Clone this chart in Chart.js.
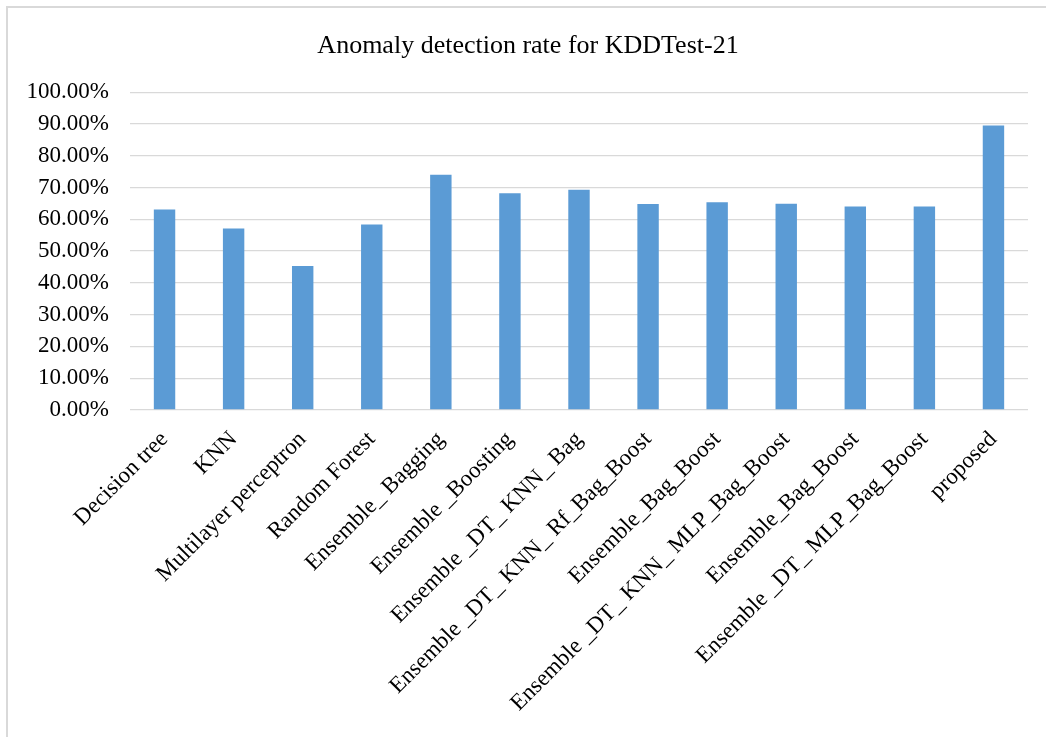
<!DOCTYPE html>
<html>
<head>
<meta charset="utf-8">
<title>Anomaly detection rate for KDDTest-21</title>
<script src="https://cdn.jsdelivr.net/npm/chart.js@4.4.1/dist/chart.umd.min.js"></script>
<style>
    html, body { margin: 0; padding: 0; background: #ffffff; }
    #wrap { position: relative; width: 1046px; height: 737px; overflow: hidden; }
    /* frame around the chart (top and left edges only show) */
    #frame {
        position: absolute; left: 6px; top: 6px; width: 1100px; height: 800px;
        border-top: 2px solid #d9d9d9; border-left: 2px solid #d9d9d9;
    }
    #rateChart { position: absolute; left: 0; top: 0; }
</style>
</head>
<body>
<div id="wrap">
    <div id="frame"></div>
    <canvas id="rateChart" width="1046" height="737"></canvas>
</div>
<script>
// Detection rate per model (percent)
const models = [
    'Decision tree',
    'KNN',
    'Multilayer perceptron',
    'Random Forest',
    'Ensemble_ Bagging',
    'Ensemble _Boosting',
    'Ensemble _DT_ KNN_ Bag',
    'Ensemble _DT_ KNN_ Rf_Bag_Boost',
    'Ensemble_Bag_Boost',
    'Ensemble _DT_ KNN_ MLP_Bag_Boost',
    'Ensemble_Bag_Boost',
    'Ensemble _DT_ MLP_Bag_Boost',
    'proposed'
];
const detectionRate = [63.1, 57.1, 45.3, 58.4, 74.0, 68.2, 69.3, 64.8, 65.4, 64.9, 64.0, 64.0, 89.5];
const yTicks = [0, 10, 20, 30, 40, 50, 60, 70, 80, 90, 100];

const serif = "'Liberation Serif', 'Times New Roman', serif";

document.addEventListener('DOMContentLoaded', function() {
    const ctx = document.getElementById('rateChart').getContext('2d');

    new Chart(ctx, {
        type: 'bar',
        data: {
            labels: models,
            datasets: [{
                label: 'Detection rate',
                data: detectionRate,
                backgroundColor: '#5b9bd5',
                borderWidth: 0,
                barPercentage: 0.31,
                categoryPercentage: 1.0
            }]
        },
        options: {
            responsive: false,
            animation: false,
            layout: {
                // left padding keeps the title centred over the frame
                padding: { left: 28, right: 18, top: 31, bottom: 0 }
            },
            plugins: {
                legend: { display: false },
                tooltip: { enabled: false },
                title: {
                    display: true,
                    text: 'Anomaly detection rate for KDDTest-21',
                    color: '#000000',
                    font: { family: serif, size: 26, weight: 'normal' },
                    padding: { top: 0, bottom: 30 }
                }
            },
            scales: {
                y: {
                    min: 0,
                    max: 100,
                    afterBuildTicks: function(scale) {
                        scale.ticks = yTicks.map(v => ({ value: v }));
                    },
                    afterFit: function(scale) {
                        scale.width = 102;
                    },
                    border: { display: false },
                    grid: {
                        color: '#d9d9d9',
                        lineWidth: 1.3,
                        drawTicks: false
                    },
                    ticks: {
                        color: '#000000',
                        padding: 21,
                        font: { family: serif, size: 23 },
                        callback: v => v.toFixed(2) + '%'
                    }
                },
                x: {
                    afterFit: function(scale) {
                        scale.height = 327;
                    },
                    border: { display: false },
                    grid: { display: false, drawTicks: false },
                    ticks: {
                        color: '#000000',
                        padding: 16,
                        autoSkip: false,
                        maxRotation: 45,
                        minRotation: 45,
                        font: { family: serif, size: 23 }
                    }
                }
            }
        }
    });
});
</script>
</body>
</html>
